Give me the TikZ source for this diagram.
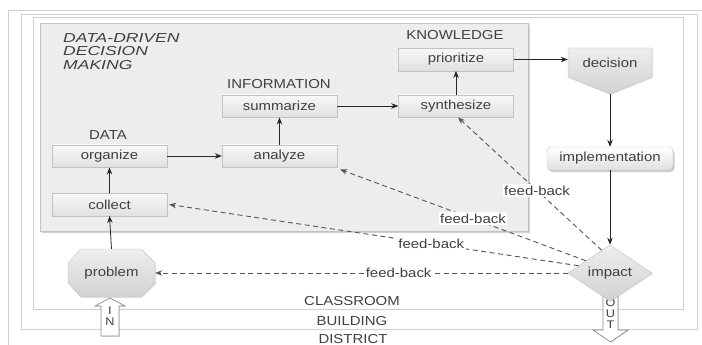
\documentclass[tikz,border=0pt]{standalone}
\usepackage{fontspec}
\setmainfont{Liberation Sans}[FakeStretch=1.15]
\newfontfamily\titlefont{Liberation Sans}[FakeStretch=1.35]
\usetikzlibrary{arrows.meta,shapes.geometric,shadows}
\definecolor{txt}{HTML}{404040}
\definecolor{framec}{HTML}{CFCFCF}
\definecolor{panelc}{HTML}{EDEDED}
\definecolor{boxtop}{HTML}{F8F8F8}
\definecolor{boxbot}{HTML}{E0E0E0}
\definecolor{boxline}{HTML}{C2C2C2}
\definecolor{shapetop}{HTML}{EEEEEE}
\definecolor{shapebot}{HTML}{D2D2D2}
\definecolor{dashc}{HTML}{555555}
\tikzset{
  lbl/.style={text=txt, font=\fontsize{13}{15}\selectfont, inner sep=0pt},
  stepbox/.style={draw=boxline, top color=boxtop, bottom color=boxbot,
    minimum width=115pt, minimum height=22.5pt, inner sep=0pt,
    text=txt, font=\fontsize{13}{15}\selectfont,
    drop shadow={opacity=0.15, shadow xshift=0.8pt, shadow yshift=-0.8pt}},
  flow/.style={draw=black!85, line width=0.8pt, -{Stealth[length=7pt,width=5.5pt]}},
  fb/.style={draw=dashc, line width=0.9pt, dash pattern=on 5pt off 3.5pt,
    -{Stealth[length=7pt,width=5.5pt]}},
  fblbl/.style={fill=white, text=txt, font=\fontsize{13}{15}\selectfont, inner sep=1.5pt},
  framebox/.style={draw=framec, line width=0.8pt},
  grayshape/.style={draw=boxline, top color=shapetop, bottom color=shapebot,
    drop shadow={opacity=0.2, shadow xshift=1pt, shadow yshift=-1pt}},
  blockarrow/.style={draw=black!45, fill=white, line width=0.7pt,
    drop shadow={opacity=0.2, shadow xshift=0.8pt, shadow yshift=-0.8pt}},
  letter/.style={text=txt, font=\fontsize{11}{12}\selectfont, inner sep=0pt},
}
\begin{document}
\begin{tikzpicture}[x=1pt, y=-1pt]
\useasboundingbox (0,0) rectangle (702,345);
\clip (0,0) rectangle (702,345);
\fill[white] (0,0) rectangle (702,345);
% frames
\draw[framebox] (8,10) rectangle (720,360);
\draw[framebox] (21,14) rectangle (697,329);
\draw[framebox] (33,17) rectangle (683,309);
\node[lbl] (classroom) at (352,301) {CLASSROOM};
\node[lbl] (building) at (352,321) {BUILDING};
\node[lbl] (district) at (353,339) {DISTRICT};
% panel
\node[draw=boxline, fill=panelc, minimum width=488pt, minimum height=208pt, inner sep=0pt,
  drop shadow={opacity=0.35, shadow xshift=1.5pt, shadow yshift=-2pt}] (panel) at (284,127) {};
\node[text=txt, font=\titlefont\itshape\fontsize{13}{13.5}\selectfont, align=left, anchor=west, inner sep=0pt]
  (title) at (63,51.5) {DATA-DRIVEN\\DECISION\\MAKING};
\node[lbl] (tdata) at (108,135) {DATA};
\node[lbl] (tinfo) at (279,84) {INFORMATION};
\node[lbl] (tknow) at (455,35) {KNOWLEDGE};
% step boxes
\node[stepbox] (organize) at (109.5,156) {organize};
\node[stepbox] (collect) at (109.5,204.5) {collect};
\node[stepbox] (analyze) at (279.5,156) {analyze};
\node[stepbox] (summarize) at (279.5,106) {summarize};
\node[stepbox] (synthesize) at (456,106) {synthesize};
\node[stepbox] (prioritize) at (456,59.5) {prioritize};
% decision
\path[grayshape] (568,48) -- (652,48) -- (652,77) -- (610,94) -- (568,77) -- cycle;
\node[lbl, minimum width=84pt, minimum height=29pt] (decision) at (610,62.5) {decision};
\coordinate (dtip) at (610,94);
% implementation
\node[draw=boxline, rounded corners=4pt, top color=white, bottom color=boxbot,
  minimum width=126pt, minimum height=23pt, inner sep=0pt, text=txt,
  font=\fontsize{13}{15}\selectfont,
  drop shadow={opacity=0.4, shadow xshift=1.5pt, shadow yshift=-2pt}] (implementation) at (610,158.5) {implementation};
% OUT arrow
\path[blockarrow] (603,290) -- (603,330) -- (593,330) -- (610.5,342) -- (628,330) -- (618,330) -- (618,290) -- cycle;
\node[letter] (oo) at (610.5,303) {O};
\node[letter] (ou) at (610.5,314) {U};
\node[letter] (ot) at (610.5,325) {T};
% impact
\node[diamond, grayshape, minimum width=84pt, minimum height=50pt, inner sep=0pt, text=txt,
  font=\fontsize{13}{15}\selectfont] (impact) at (610,273) {impact};
% IN arrow
\path[blockarrow] (101,336) -- (101,306) -- (95,306) -- (110,298) -- (125,306) -- (119,306) -- (119,336) -- cycle;
\node[letter] (ii) at (110,311) {I};
\node[letter] (in) at (110,322) {N};
% problem
\path[grayshape] (81,249) -- (141,249) -- (155,263) -- (155,283) -- (141,297) -- (81,297) -- (68,283) -- (68,263) -- cycle;
\node[lbl, minimum width=87pt, minimum height=48pt] (problem) at (111.5,273) {problem};
% flow arrows
\draw[flow] (problem.north) -- (collect.south);
\draw[flow] (collect.north) -- (organize.south);
\draw[flow] (organize.east) -- (analyze.west);
\draw[flow] (analyze.north) -- (summarize.south);
\draw[flow] (summarize.east) -- (synthesize.west);
\draw[flow] (synthesize.north) -- (prioritize.south);
\draw[flow] (prioritize.east) -- (prioritize.east -| decision.west);
\draw[flow] (dtip) -- (implementation.north);
\draw[flow] (implementation.south) -- (impact.north);
% feedback
\draw[fb] (impact.110) -- node[fblbl, pos=0.45] {feed-back} ([xshift=2pt]synthesize.south);
\draw[fb] (impact.153) -- node[fblbl, pos=0.46] {feed-back} ([xshift=3pt,yshift=-2pt]analyze.south east);
\draw[fb] (impact.167) -- node[fblbl, pos=0.36] {feed-back} ([xshift=2pt]collect.east);
\draw[fb] (impact.west) -- node[fblbl, pos=0.41] {feed-back} (problem.east);
\end{tikzpicture}
\end{document}
